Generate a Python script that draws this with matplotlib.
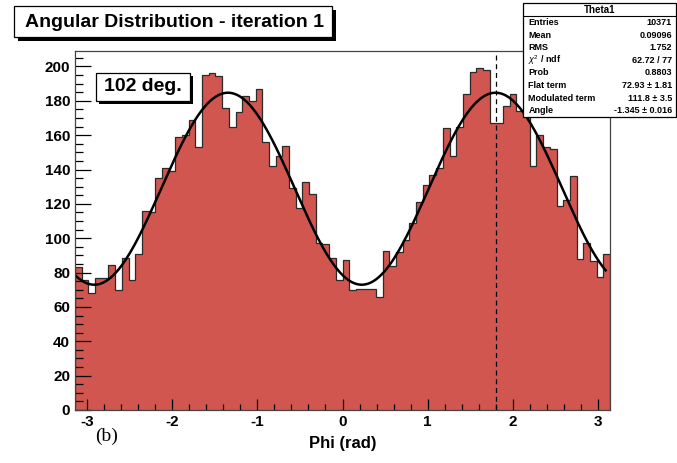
import numpy as np
import matplotlib
matplotlib.use("Agg")
import matplotlib.pyplot as plt
from matplotlib.ticker import MultipleLocator
from matplotlib.patches import Rectangle

plt.rcParams['font.family'] = ['Liberation Sans', 'DejaVu Sans']
plt.rcParams['mathtext.fontset'] = 'custom'
plt.rcParams['mathtext.rm'] = 'Liberation Sans'
plt.rcParams['mathtext.it'] = 'Liberation Sans:italic'
plt.rcParams['axes.unicode_minus'] = False

# 80 bins from -pi to pi, counts per bin
n_bins = 80
counts = [83.5, 75.8, 68.4, 77, 77, 84.5, 69.6, 88.4, 75.8, 91,
          115.6, 115, 135, 141, 139, 159, 160, 168.7, 153, 194.8,
          196, 194.4, 175.9, 164.8, 173.4, 183.1, 179.8, 187, 156, 142,
          148, 153.5, 129, 117.6, 132.5, 125.8, 97.2, 96.6, 88.4, 75.8,
          87.5, 70, 70.4, 70.4, 70.4, 66, 92.3, 84, 92, 99,
          109, 121, 131, 137, 141, 164, 148, 165, 184, 197,
          199, 198, 167, 167, 177, 184, 174, 172, 142, 160,
          153, 152, 119, 122, 136, 88, 97, 87, 77.5, 91]

# fit parameters: flat + modulated * cos^2(phi - angle)
flat_term = 72.93
modulated_term = 111.8
angle = -1.345

stats_labels = ["Entries", "Mean", "RMS", r"$\chi^2$ / ndf", "Prob",
                "Flat term", "Modulated term", "Angle"]
stats_values = ["10371", "0.09096", "1.752", "62.72 / 77", "0.8803",
                "72.93 \u00b1 1.81", "111.8 \u00b1 3.5", "-1.345 \u00b1 0.016"]

fill_color = "#d0564f"


def shadow_box(fig, x0, y0, w, h, dx=0.006, dy=0.008):
    # white framed box with a black drop shadow, in figure fraction
    fig.patches.append(Rectangle((x0 + dx, y0 - dy), w, h, transform=fig.transFigure,
                                 facecolor="black", edgecolor="none", zorder=6))
    fig.patches.append(Rectangle((x0, y0), w, h, transform=fig.transFigure,
                                 facecolor="white", edgecolor="black", lw=0.9, zorder=7))


fig = plt.figure(figsize=(6.77, 4.63), dpi=100)
ax = fig.add_axes([0.1108, 0.1145, 0.7903, 0.7753])

edges = np.linspace(-np.pi, np.pi, n_bins + 1)
ax.stairs(counts, edges, fill=True, color=fill_color, lw=0)
ax.stairs(counts, edges, color="#2a2a2a", lw=0.9)

phi = np.linspace(-3.13, 3.09, 400)
fit = flat_term + modulated_term * np.cos(phi - angle) ** 2
ax.plot(phi, fit, color="black", lw=1.8)

ax.axvline(angle + np.pi, color="black", lw=0.9, ls=(0, (4, 3)))

ax.set_xlim(-np.pi, np.pi)
ax.set_ylim(0, 209)

ax.xaxis.set_major_locator(MultipleLocator(1))
ax.xaxis.set_minor_locator(MultipleLocator(0.2))
ax.yaxis.set_major_locator(MultipleLocator(20))
ax.yaxis.set_minor_locator(MultipleLocator(5))
ax.tick_params(axis="x", which="major", direction="in", length=8, width=0.9, top=False)
ax.tick_params(axis="x", which="minor", direction="in", length=4, width=0.9, top=False)
ax.tick_params(axis="y", which="major", direction="in", length=11.5, width=0.9, right=False)
ax.tick_params(axis="y", which="minor", direction="in", length=5.8, width=0.9, right=False)
ax.tick_params(labelsize=11)
for lab in ax.get_xticklabels() + ax.get_yticklabels():
    lab.set_fontweight("bold")
for sp in ax.spines.values():
    sp.set_color("#444444")
    sp.set_linewidth(0.9)

ax.set_xlabel("Phi (rad)", fontsize=12, fontweight="bold", labelpad=5)
fig.text(0.141, 0.057, "(b)", fontsize=14, family="Liberation Serif",
         ha="left", va="center")

# title box
shadow_box(fig, 0.021, 0.920, 0.470, 0.066)
fig.text(0.258, 0.952, "Angular Distribution - iteration 1", fontsize=14,
         fontweight="bold", ha="center", va="center", zorder=8)

# angle label box
shadow_box(fig, 0.1418, 0.7819, 0.1389, 0.0605, dx=0.005, dy=0.007)
fig.text(0.2112, 0.8121, "102 deg.", fontsize=14, fontweight="bold",
         ha="center", va="center", zorder=8)

# statistics box
bx0, by0, bw, bh = 0.7725, 0.747, 0.226, 0.246
fig.patches.append(Rectangle((bx0, by0), bw, bh, transform=fig.transFigure,
                             facecolor="white", edgecolor="black", lw=0.9, zorder=10))
head_h = 0.028
fig.lines.append(plt.Line2D([bx0, bx0 + bw], [by0 + bh - head_h] * 2,
                            transform=fig.transFigure, color="black", lw=0.8, zorder=11))
fig.text(bx0 + bw / 2, by0 + bh - head_h / 2, "Theta1", fontsize=7, fontweight="bold",
         ha="center", va="center", zorder=12)
row_h = (bh - head_h) / len(stats_labels)
for k, (lab, val) in enumerate(zip(stats_labels, stats_values)):
    yy = by0 + bh - head_h - (k + 0.5) * row_h
    fig.text(bx0 + 0.008, yy, lab, fontsize=6.5, fontweight="bold", ha="left",
             va="center", zorder=12)
    fig.text(bx0 + bw - 0.006, yy, val, fontsize=6.5, fontweight="bold", ha="right",
             va="center", zorder=12)

fig.savefig("out.png", dpi=100)
